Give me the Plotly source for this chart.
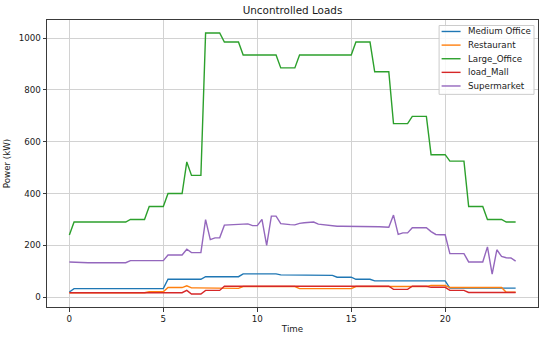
import plotly.graph_objects as go

time_h = [
    0.0, 0.25, 0.5, 0.75, 1.0, 1.25, 1.5, 1.75,
    2.0, 2.25, 2.5, 2.75, 3.0, 3.25, 3.5, 3.75,
    4.0, 4.25, 4.5, 4.75, 5.0, 5.25, 5.5, 5.75,
    6.0, 6.25, 6.5, 6.75, 7.0, 7.25, 7.5, 7.75,
    8.0, 8.25, 8.5, 8.75, 9.0, 9.25, 9.5, 9.75,
    10.0, 10.25, 10.5, 10.75, 11.0, 11.25, 11.5, 11.75,
    12.0, 12.25, 12.5, 12.75, 13.0, 13.25, 13.5, 13.75,
    14.0, 14.25, 14.5, 14.75, 15.0, 15.25, 15.5, 15.75,
    16.0, 16.25, 16.5, 16.75, 17.0, 17.25, 17.5, 17.75,
    18.0, 18.25, 18.5, 18.75, 19.0, 19.25, 19.5, 19.75,
    20.0, 20.25, 20.5, 20.75, 21.0, 21.25, 21.5, 21.75,
    22.0, 22.25, 22.5, 22.75, 23.0, 23.25, 23.5, 23.75,
]

medium_office = [
    20, 33, 33, 33, 33, 33, 33, 33,
    33, 33, 33, 33, 33, 33, 33, 33,
    33, 33, 33, 33, 33, 69, 69, 69,
    69, 69, 69, 69, 69, 79, 79, 79,
    79, 79, 79, 79, 79, 90, 90, 90,
    90, 90, 90, 90, 90, 86, 86, 86,
    86, 86, 86, 86, 86, 84, 84, 84,
    84, 77, 77, 77, 77, 69, 69, 69,
    69, 63, 63, 63, 63, 63, 63, 63,
    63, 63, 63, 63, 63, 63, 63, 63,
    63, 35, 35, 35, 35, 35, 35, 35,
    35, 35, 35, 35, 35, 35, 35, 35,
]

restaurant = [
    17, 17, 17, 17, 17, 17, 17, 17,
    17, 17, 17, 17, 17, 17, 17, 17,
    17, 21, 21, 21, 21, 37, 37, 37,
    37, 44, 36, 36, 36, 36, 36, 36,
    36, 34, 34, 34, 34, 41, 41, 41,
    41, 41, 41, 41, 41, 41, 41, 41,
    41, 33, 33, 33, 33, 33, 33, 33,
    33, 33, 33, 33, 33, 41, 41, 41,
    41, 41, 41, 41, 41, 41, 41, 41,
    41, 41, 41, 41, 41, 45, 45, 45,
    45, 37, 37, 37, 37, 37, 37, 37,
    37, 37, 39, 37, 37, 19, 19, 19,
]

large_office = [
    240, 290, 290, 290, 290, 290, 290, 290,
    290, 290, 290, 290, 290, 300, 300, 300,
    300, 350, 350, 350, 350, 400, 400, 400,
    400, 522, 470, 470, 470, 1020, 1020, 1020,
    1020, 985, 985, 985, 985, 935, 935, 935,
    935, 935, 935, 935, 935, 885, 885, 885,
    885, 935, 935, 935, 935, 935, 935, 935,
    935, 935, 935, 935, 935, 985, 985, 985,
    985, 870, 870, 870, 870, 670, 670, 670,
    670, 698, 698, 698, 698, 550, 550, 550,
    550, 525, 525, 525, 525, 350, 350, 350,
    350, 300, 300, 300, 300, 290, 290, 290,
]

load_mall = [
    17, 17, 17, 17, 17, 17, 17, 17,
    17, 17, 17, 17, 17, 17, 17, 17,
    17, 17, 17, 17, 17, 17, 17, 17,
    17, 26, 12, 12, 12, 26, 26, 26,
    26, 42, 42, 42, 42, 42, 42, 42,
    42, 42, 42, 42, 42, 42, 42, 42,
    42, 42, 42, 42, 42, 42, 42, 42,
    42, 42, 42, 42, 42, 42, 42, 42,
    42, 42, 42, 42, 42, 30, 30, 30,
    30, 42, 42, 42, 42, 38, 38, 38,
    38, 26, 26, 26, 26, 18, 18, 18,
    18, 18, 18, 18, 18, 18, 18, 18,
]

supermarket = [
    136, 135, 133, 133, 133, 133, 133, 133,
    133, 133, 133, 133, 133, 141, 141, 141,
    141, 141, 141, 141, 141, 163, 163, 163,
    163, 185, 172, 172, 172, 299, 222, 229,
    229, 278, 279, 280, 281, 282, 283, 276,
    276, 300, 200, 313, 313, 284, 281, 280,
    279, 285, 287, 288, 290, 282, 280, 278,
    275, 274, 274, 274, 274, 274, 274, 274,
    273, 272, 272, 271, 270, 317, 242, 248,
    248, 268, 268, 268, 268, 253, 242, 241,
    241, 168, 168, 168, 168, 136, 136, 136,
    136, 194, 89, 183, 157, 152, 151, 139,
]

series_names = ["Medium Office", "Restaurant", "Large_Office", "load_Mall", "Supermarket"]
series_values = [medium_office, restaurant, large_office, load_mall, supermarket]
series_colors = ["#1f77b4", "#ff7f0e", "#2ca02c", "#d62728", "#9467bd"]

x_ticks = [0, 5, 10, 15, 20, 25]
y_ticks = [0, 200, 400, 600, 800, 1000]

FONT = "DejaVu Sans"
TXT = "#1a1a1a"
W, H = 550, 338
ML, MR, MT, MB = 47, 11.5, 19.5, 31
PW, PH = W - ML - MR, H - MT - MB


def px_x(px):
    return (px - ML) / PW


def px_y(py):
    return (H - MB - py) / PH


fig = go.Figure()
for name, vals, col in zip(series_names, series_values, series_colors):
    fig.add_trace(go.Scatter(
        x=time_h, y=vals, name=name, mode="lines",
        line=dict(color=col, width=1.4), showlegend=False,
    ))

axis_common = dict(
    showgrid=True, gridcolor="#d2d2d2", gridwidth=1.2,
    showline=True, linecolor="#3a3a3a", linewidth=1, mirror=True,
    ticks="outside", ticklen=3.5, tickwidth=1, tickcolor="#3a3a3a",
    tickfont=dict(family=FONT, size=8.7, color=TXT),
    zeroline=False, automargin=False,
)

# matplotlib-style legend box drawn in paper space
shapes = [dict(type="rect", xref="paper", yref="paper",
               x0=px_x(439.5), x1=px_x(534.5), y0=px_y(94), y1=px_y(25),
               line=dict(color="#cccccc", width=1), fillcolor="rgba(255,255,255,0.85)",
               layer="above")]
annotations = []
for k, (name, col) in enumerate(zip(series_names, series_colors)):
    yc = 31 + k * 13.65
    shapes.append(dict(type="line", xref="paper", yref="paper",
                       x0=px_x(442), x1=px_x(461), y0=px_y(yc), y1=px_y(yc),
                       line=dict(color=col, width=1.4), layer="above"))
    annotations.append(dict(text=name, xref="paper", yref="paper",
                            x=px_x(466.5), y=px_y(yc), xanchor="left", yanchor="middle",
                            showarrow=False, font=dict(family=FONT, size=8.7, color=TXT)))

fig.update_layout(
    width=W, height=H,
    margin=dict(l=ML, r=MR, t=MT, b=MB),
    paper_bgcolor="white", plot_bgcolor="white",
    font=dict(family=FONT, size=8.7, color=TXT),
    title=dict(text="Uncontrolled Loads", x=0.5, xref="paper", xanchor="center",
               y=1 - 10 / H, yref="container", yanchor="middle",
               font=dict(family=FONT, size=10.4, color=TXT)),
    xaxis=dict(range=[-1.19, 24.94], tickvals=x_ticks,
               title=dict(text="Time", standoff=2, font=dict(family=FONT, size=8.7, color=TXT)),
               **axis_common),
    yaxis=dict(range=[-38, 1070], tickvals=y_ticks,
               title=dict(text="Power (kW)", standoff=6, font=dict(family=FONT, size=8.7, color=TXT)),
               **axis_common),
    shapes=shapes,
    annotations=annotations,
    showlegend=False,
)

fig.write_html("out.html", config={"displayModeBar": False},
               post_script="document.body.style.margin='0';document.body.style.overflow='hidden';")
